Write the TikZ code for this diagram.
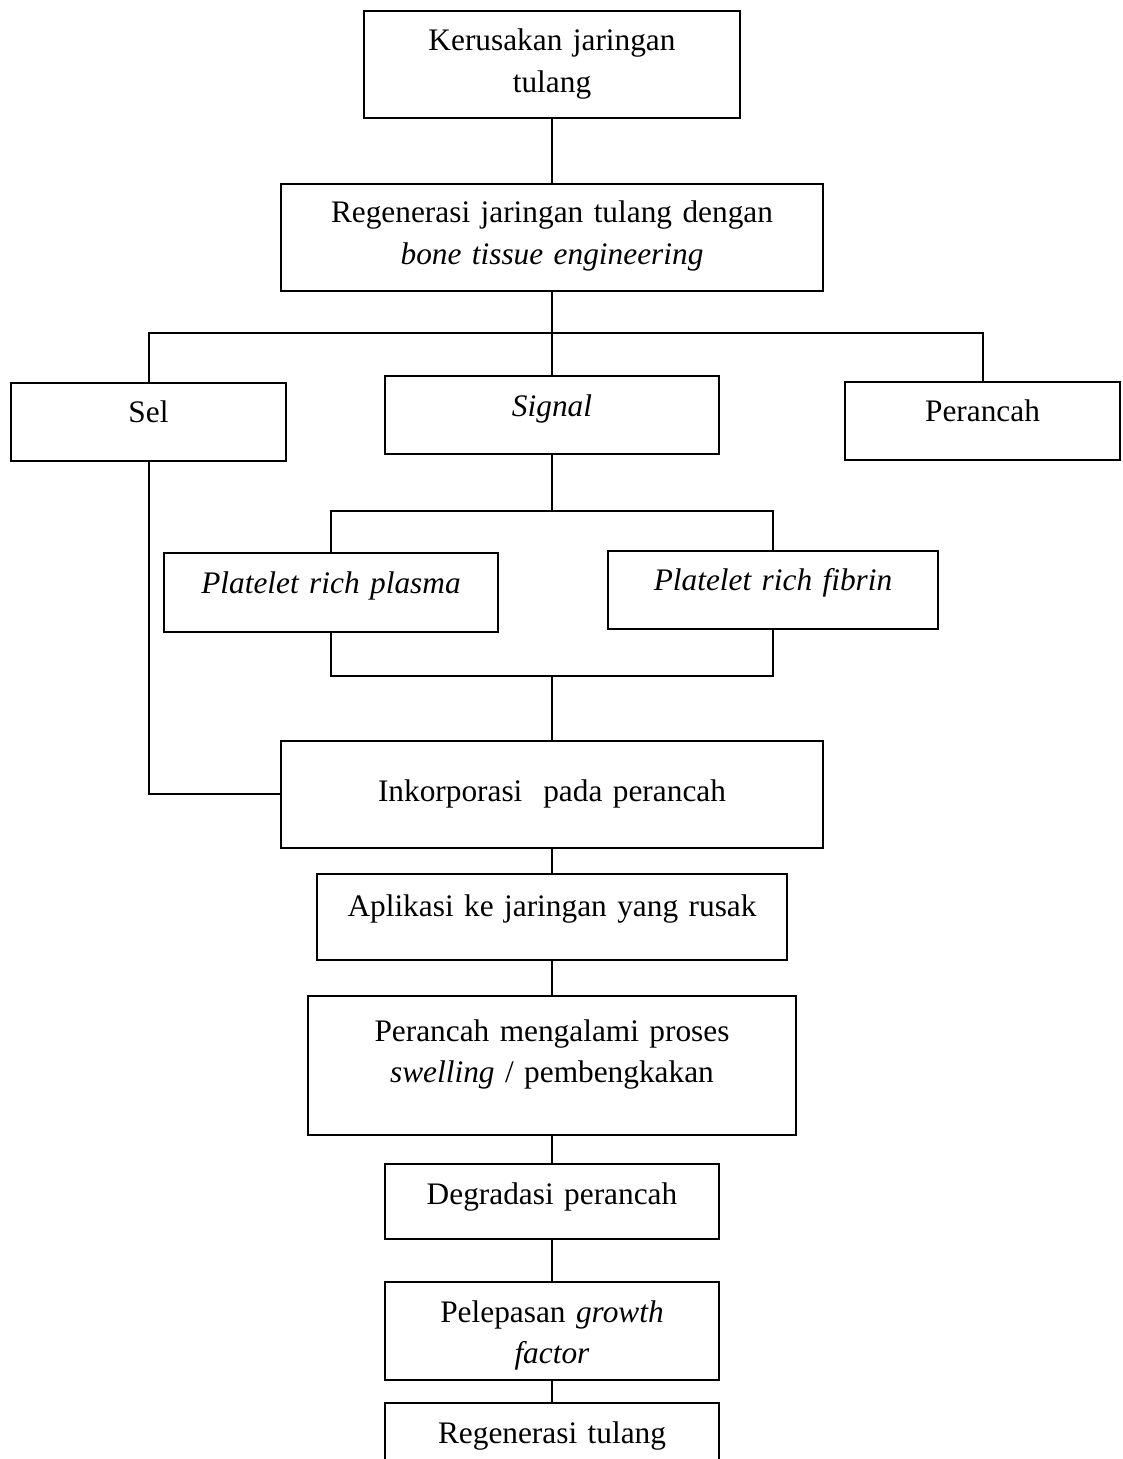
\documentclass[tikz,border=0pt]{standalone}
\usepackage{fontspec}
\setmainfont{Liberation Serif}
\begin{document}
\begin{tikzpicture}[x=0.375pt, y=-0.375pt,
        box/.style={
            rectangle,
            draw=black, line width=0.75pt,
            anchor=north,
            inner sep=0pt,
            align=center,
            text height=15pt,
            font=\fontsize{11.75pt}{15.6pt}\selectfont},
        link/.style={
            draw=black, line width=0.75pt}
        ]

    \clip (0,0) rectangle (1122,1459);

    \node (damage) [box, text width=141pt, text depth=25.1pt] at (552,10) {Kerusakan jaringan\\tulang};
    \node (regen) [box, text width=203.6pt, text height=14.6pt, text depth=25.5pt] at (552,183) {Regenerasi jaringan tulang dengan\\\textit{bone tissue engineering}};
    \node (sel) [box, text width=103.1pt, text depth=14.4pt] at (148.5,381.5) {Sel};
    \node (signal) [box, text width=124.9pt, text depth=14.3pt] at (552,375) {\textit{Signal}};
    \node (scaffold) [box, text width=103.1pt, text depth=14.3pt] at (982.5,380.5) {Perancah};
    \node (prp) [box, text width=125.3pt, text depth=14.6pt] at (331,552) {\textit{Platelet rich plasma}};
    \node (prf) [box, text width=123.8pt, text depth=14.4pt] at (773,549.5) {\textit{Platelet rich fibrin}};
    \node (embed) [box, text width=203.3pt, text height=22.5pt, text depth=17.6pt] at (552,740) {Inkorporasi~~pada perancah};
    \node (apply) [box, text width=176.3pt, text height=15.8pt, text depth=16.3pt] at (552,873) {Aplikasi ke jaringan yang rusak};
    \node (swell) [box, text width=183pt, text height=16.9pt, text depth=35.4pt] at (552,995) {Perancah mengalami proses\\\textit{swelling} / pembengkakan};
    \node (degrade) [box, text width=124.9pt, text depth=13.3pt] at (552,1163) {Degradasi perancah};
    \node (release) [box, text width=124.9pt, text depth=21.75pt] at (552,1281) {Pelepasan \textit{growth}\\\textit{factor}};
    \node (regrow) [box, text width=124.9pt, text depth=30pt] at (552,1402) {Regenerasi tulang};

    \coordinate (bus) at (552,333);
    \coordinate (split) at (552,511);
    \coordinate (merge) at (552,676);

    \draw [link] (damage) -- (regen);
    \draw [link] (regen) -- (signal);
    \draw [link] (sel) |- (bus) -| (scaffold);
    \draw [link] (signal) -- (split);
    \draw [link] (prp) |- (split) -| (prf);
    \draw [link] (prp) |- (merge) -| (prf);
    \draw [link] (merge) -- (embed);
    \draw [link] (sel) |- (embed);
    \draw [link] (embed) -- (apply);
    \draw [link] (apply) -- (swell);
    \draw [link] (swell) -- (degrade);
    \draw [link] (degrade) -- (release);
    \draw [link] (release) -- (regrow);

\end{tikzpicture}
\end{document}
